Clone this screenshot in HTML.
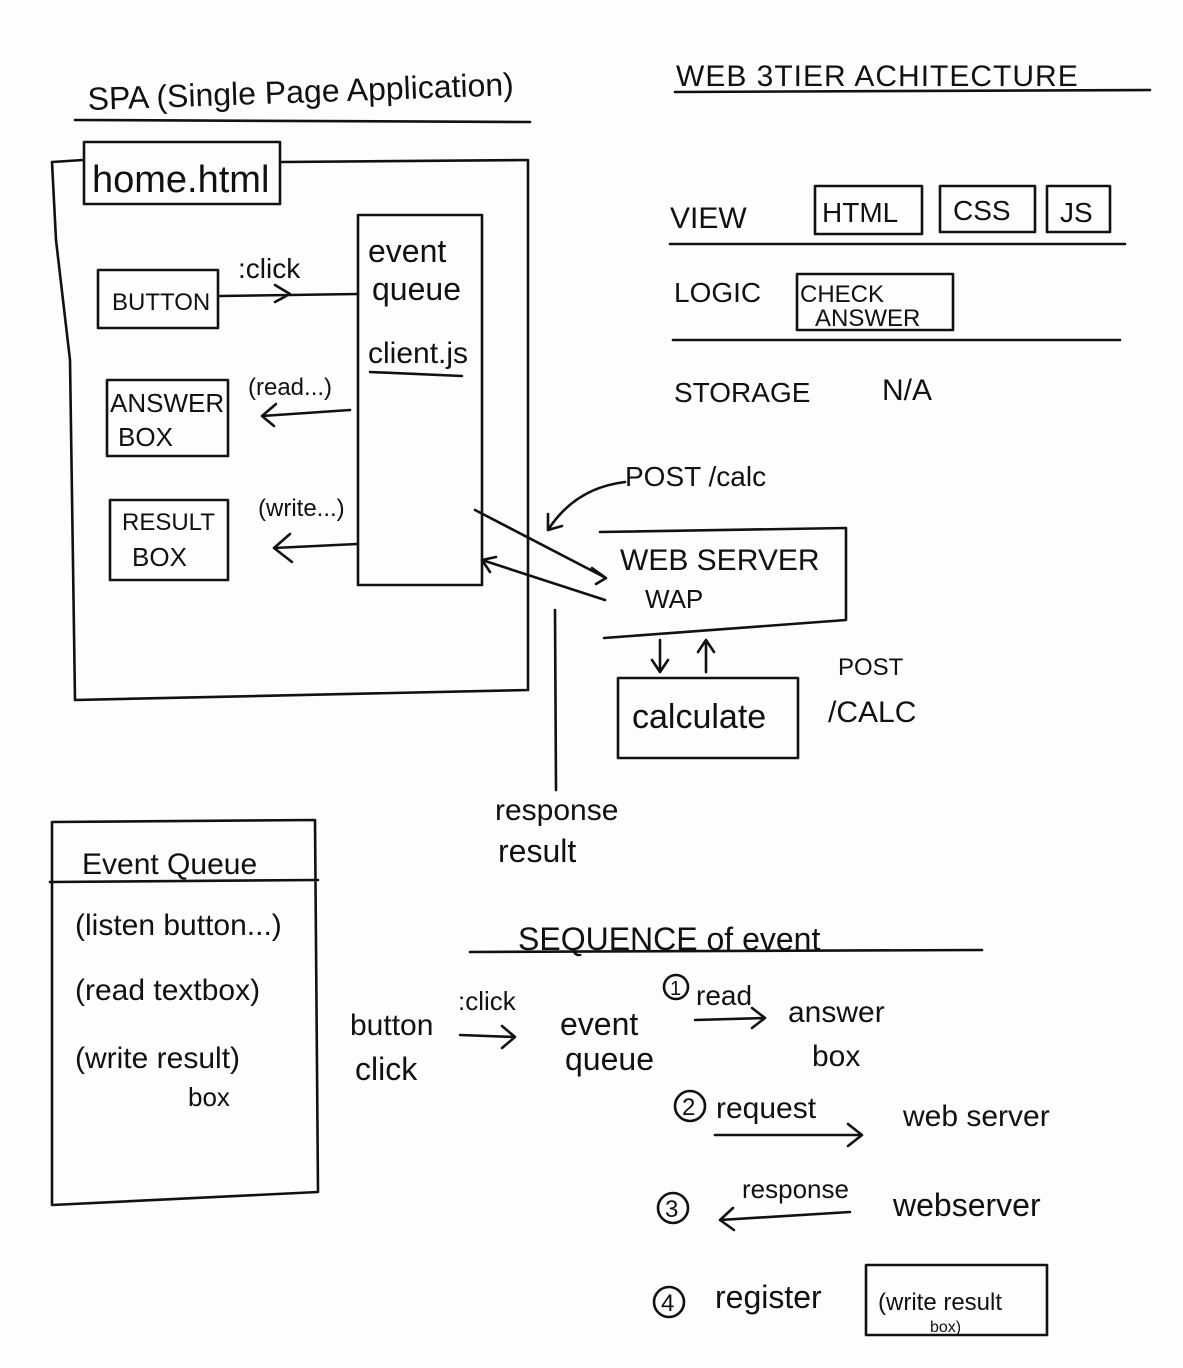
<!DOCTYPE html>
<html><head><meta charset="utf-8"><style>
html,body{margin:0;padding:0;background:#fdfdfd;}
svg{display:block}
text{font-family:"Liberation Sans",sans-serif;fill:#111;}
.s{stroke:#111;stroke-width:2.6;fill:none;stroke-linecap:round;stroke-linejoin:round}
</style></head><body>
<svg width="1183" height="1368" viewBox="0 0 1183 1368" xmlns="http://www.w3.org/2000/svg">
<text x="88" y="110" font-size="32" transform="rotate(-2 88 110)">SPA (Single Page Application)</text>
<path class="s" d="M75 120 L530 122"/>
<text x="676" y="86" font-size="30" letter-spacing="1">WEB 3TIER ACHITECTURE</text>
<path class="s" d="M675 92 L1150 90"/>
<path class="s" d="M83 160 L52 162 L56 240 L70 360 L75 700 L528 690 L528 160 L282 162"/>
<rect class="s" x="84" y="142" width="196" height="62"/>
<text x="92" y="192" font-size="38">home.html</text>
<rect class="s" x="358" y="215" width="124" height="370"/>
<text x="368" y="262" font-size="32">event</text>
<text x="372" y="300" font-size="32">queue</text>
<text x="368" y="363" font-size="30">client.js</text>
<path class="s" d="M370 372 L462 376"/>
<rect class="s" x="98" y="270" width="120" height="58"/>
<text x="112" y="310" font-size="24">BUTTON</text>
<text x="238" y="278" font-size="28">:click</text>
<path class="s" d="M220 296 L358 294 M275 285 L290 294 L275 302"/>
<rect class="s" x="107" y="380" width="121" height="76"/>
<text x="110" y="412" font-size="26">ANSWER</text>
<text x="118" y="446" font-size="26">BOX</text>
<text x="248" y="395" font-size="24">(read...)</text>
<path class="s" d="M350 410 L262 416 M276 404 L262 416 L274 426"/>
<rect class="s" x="110" y="500" width="118" height="80"/>
<text x="122" y="530" font-size="24">RESULT</text>
<text x="132" y="566" font-size="26">BOX</text>
<text x="258" y="516" font-size="24">(write...)</text>
<path class="s" d="M357 544 L274 548 M290 534 L274 548 L292 562"/>
<path class="s" d="M600 532 L846 528 L846 620 L604 638"/>
<text x="620" y="570" font-size="30">WEB SERVER</text>
<text x="645" y="608" font-size="26">WAP</text>
<path class="s" d="M475 510 L606 578 M592 568 L606 578 L596 584"/>
<path class="s" d="M605 600 L482 560 M496 557 L482 560 L490 572"/>
<text x="625" y="486" font-size="28">POST /calc</text>
<path class="s" d="M625 482 Q575 488 548 530 M548 514 L548 530 L562 526"/>
<path class="s" d="M555 610 L556 790"/>
<text x="495" y="820" font-size="30">response</text>
<text x="498" y="862" font-size="32">result</text>
<path class="s" d="M660 640 L660 672 M652 660 L660 672 L668 660 M706 672 L706 640 M698 652 L706 640 L714 652"/>
<rect class="s" x="618" y="678" width="180" height="80"/>
<text x="632" y="728" font-size="34">calculate</text>
<text x="838" y="675" font-size="24">POST</text>
<text x="828" y="722" font-size="30">/CALC</text>
<text x="670" y="228" font-size="30">VIEW</text>
<rect class="s" x="815" y="186" width="107" height="48"/>
<text x="822" y="222" font-size="28">HTML</text>
<rect class="s" x="940" y="186" width="95" height="46"/>
<text x="953" y="220" font-size="28">CSS</text>
<rect class="s" x="1047" y="186" width="63" height="46"/>
<text x="1060" y="222" font-size="28">JS</text>
<path class="s" d="M670 244 L1125 244"/>
<text x="674" y="302" font-size="28">LOGIC</text>
<rect class="s" x="797" y="274" width="156" height="56"/>
<text x="800" y="302" font-size="24">CHECK</text>
<text x="815" y="326" font-size="24">ANSWER</text>
<path class="s" d="M673 340 L1120 340"/>
<text x="674" y="402" font-size="28">STORAGE</text>
<text x="882" y="400" font-size="30">N/A</text>
<path class="s" d="M52 822 L315 820 L318 1192 L52 1205 Z M50 882 L318 880"/>
<text x="82" y="874" font-size="30">Event Queue</text>
<text x="75" y="935" font-size="30">(listen button...)</text>
<text x="75" y="1000" font-size="30">(read textbox)</text>
<text x="75" y="1068" font-size="30">(write result)</text>
<text x="188" y="1106" font-size="26">box</text>
<text x="518" y="950" font-size="32">SEQUENCE of event</text>
<path class="s" d="M470 952 L982 950"/>
<text x="350" y="1035" font-size="30">button</text>
<text x="355" y="1080" font-size="32">click</text>
<text x="458" y="1010" font-size="26">:click</text>
<path class="s" d="M460 1035 L515 1037 M502 1026 L515 1037 L502 1048"/>
<text x="560" y="1035" font-size="32">event</text>
<text x="565" y="1070" font-size="32">queue</text>
<circle class="s" cx="676" cy="987" r="12"/><text x="670" y="995" font-size="20">1</text>
<text x="696" y="1005" font-size="28">read</text>
<path class="s" d="M695 1020 L765 1018 M752 1008 L765 1018 L752 1028"/>
<text x="788" y="1022" font-size="30">answer</text>
<text x="812" y="1066" font-size="30">box</text>
<circle class="s" cx="690" cy="1106" r="15"/><text x="682" y="1115" font-size="24">2</text>
<text x="716" y="1118" font-size="30">request</text>
<path class="s" d="M715 1135 L862 1135 M848 1124 L862 1135 L848 1146"/>
<text x="903" y="1126" font-size="30">web server</text>
<circle class="s" cx="673" cy="1208" r="15"/><text x="665" y="1217" font-size="24">3</text>
<text x="742" y="1198" font-size="26">response</text>
<path class="s" d="M850 1212 L720 1220 M733 1208 L720 1220 L734 1230"/>
<text x="893" y="1216" font-size="32">webserver</text>
<circle class="s" cx="669" cy="1302" r="15"/><text x="661" y="1311" font-size="24">4</text>
<text x="715" y="1308" font-size="32">register</text>
<rect class="s" x="866" y="1265" width="181" height="70"/>
<text x="878" y="1310" font-size="24">(write result</text>
<text x="930" y="1332" font-size="16">box)</text>
</svg>
</body></html>
